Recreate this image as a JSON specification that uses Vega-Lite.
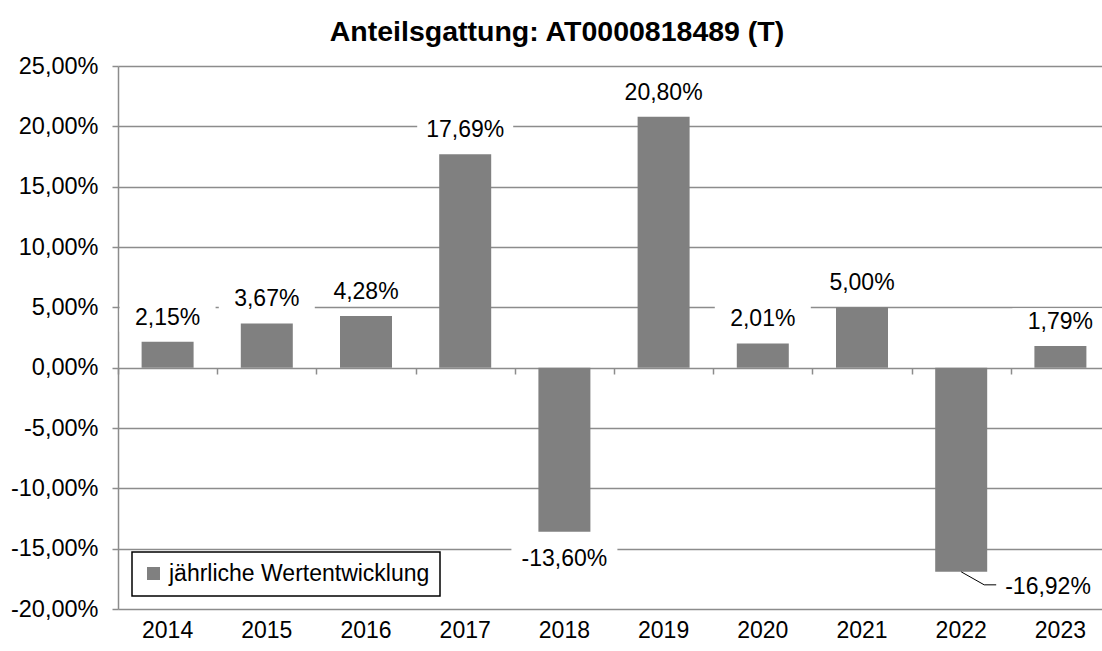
{
  "$schema": "https://vega.github.io/schema/vega-lite/v6.json",
  "autosize": {"type": "none"},
  "padding": {"left": 118, "top": 66, "right": 0, "bottom": 42},
  "width": 992,
  "height": 543,
  "background": "white",
  "title": {
    "text": "Anteilsgattung: AT0000818489 (T)",
    "font": "Liberation Sans",
    "fontSize": 28.5,
    "fontWeight": "bold",
    "color": "black",
    "anchor": "middle",
    "baseline": "alphabetic",
    "offset": -15,
    "dx": -57
  },
  "config": {
    "locale": {"number": {"decimal": ",", "thousands": ".", "grouping": [3], "currency": ["", " €"], "minus": "-"}},
    "view": {"stroke": null},
    "axis": {
      "labelFont": "Liberation Sans",
      "labelFontSize": 23,
      "labelColor": "black",
      "domainColor": "#8c8c8c",
      "domainWidth": 1.5,
      "tickColor": "#8c8c8c",
      "tickWidth": 1.5,
      "gridColor": "#8c8c8c",
      "gridWidth": 1.3,
      "title": null
    },
    "legend": {
      "labelFont": "Liberation Sans",
      "labelFontSize": 23,
      "labelColor": "black",
      "labelLimit": 500
    }
  },
  "data": {
    "values": [
      {"Jahr": "2014", "Wert": 0.0215},
      {"Jahr": "2015", "Wert": 0.0367},
      {"Jahr": "2016", "Wert": 0.0428},
      {"Jahr": "2017", "Wert": 0.1769},
      {"Jahr": "2018", "Wert": -0.136},
      {"Jahr": "2019", "Wert": 0.208},
      {"Jahr": "2020", "Wert": 0.0201},
      {"Jahr": "2021", "Wert": 0.05},
      {"Jahr": "2022", "Wert": -0.1692},
      {"Jahr": "2023", "Wert": 0.0179}
    ]
  },
  "resolve": {"axis": {"x": "independent"}},
  "layer": [
    {
      "mark": {"type": "bar", "size": 52},
      "encoding": {
        "x": {
          "field": "Jahr", "type": "nominal", "sort": null,
          "scale": {"paddingInner": 0, "paddingOuter": 0},
          "axis": {"orient": "bottom", "labelAngle": 0, "ticks": false, "domain": false, "grid": false, "labelPadding": 10}
        },
        "y": {
          "field": "Wert", "type": "quantitative",
          "scale": {"domain": [-0.2, 0.25], "nice": false, "zero": false},
          "axis": {
            "values": [-0.2, -0.15, -0.1, -0.05, 0, 0.05, 0.1, 0.15, 0.2, 0.25],
            "format": ".2%", "tickSize": 6, "labelPadding": 14, "labelFontSize": 23.5, "grid": true
          }
        },
        "color": {
          "datum": "jährliche Wertentwicklung",
          "scale": {"range": ["#808080"]},
          "legend": {
            "title": null, "orient": "none", "legendX": 14, "legendY": 486,
            "strokeColor": "black", "fillColor": "white",
            "padding": 10, "symbolType": "square", "symbolSize": 170,
            "symbolStrokeWidth": 0, "labelOffset": 4,
            "encode": {"legend": {"update": {"strokeWidth": {"value": 1.5}}}}
          }
        }
      }
    },
    {
      "transform": [{"filter": "datum.Wert > 0"}],
      "mark": {"type": "point", "filled": true, "color": "white", "opacity": 1, "yOffset": -24, "shape": "M-1,-0.29L1,-0.29L1,0.29L-1,0.29Z", "size": 9216},
      "encoding": {
        "x": {"field": "Jahr", "type": "nominal", "sort": null, "axis": null},
        "y": {"field": "Wert", "type": "quantitative"}
      }
    },
    {
      "transform": [{"filter": "datum.Jahr == '2018'"}],
      "mark": {"type": "point", "filled": true, "color": "white", "opacity": 1, "yOffset": 27, "shape": "M-1,-0.26L1,-0.26L1,0.26L-1,0.26Z", "size": 11236},
      "encoding": {
        "x": {"field": "Jahr", "type": "nominal", "sort": null, "axis": null},
        "y": {"field": "Wert", "type": "quantitative"}
      }
    },
    {
      "transform": [{"filter": "datum.Wert > 0"}],
      "mark": {"type": "text", "font": "Liberation Sans", "fontSize": 23, "color": "black", "baseline": "middle", "dy": -24},
      "encoding": {
        "x": {"field": "Jahr", "type": "nominal", "sort": null, "axis": null},
        "y": {"field": "Wert", "type": "quantitative"},
        "text": {"field": "Wert", "type": "quantitative", "format": ".2%"}
      }
    },
    {
      "transform": [{"filter": "datum.Jahr == '2018'"}],
      "mark": {"type": "text", "font": "Liberation Sans", "fontSize": 23, "color": "black", "baseline": "middle", "dy": 27},
      "encoding": {
        "x": {"field": "Jahr", "type": "nominal", "sort": null, "axis": null},
        "y": {"field": "Wert", "type": "quantitative"},
        "text": {"field": "Wert", "type": "quantitative", "format": ".2%"}
      }
    },
    {
      "transform": [{"filter": "datum.Jahr == '2022'"}],
      "mark": {"type": "text", "font": "Liberation Sans", "fontSize": 23, "color": "black", "baseline": "middle", "align": "left", "dx": 44, "dy": 15},
      "encoding": {
        "x": {"field": "Jahr", "type": "nominal", "sort": null, "axis": null},
        "y": {"field": "Wert", "type": "quantitative"},
        "text": {"field": "Wert", "type": "quantitative", "format": ".2%"}
      }
    },
    {
      "transform": [{"filter": "datum.Jahr == '2022'"}],
      "mark": {"type": "rule", "color": "black", "strokeWidth": 1, "x2Offset": 23, "y2Offset": 13},
      "encoding": {
        "x": {"field": "Jahr", "type": "nominal", "sort": null,
          "axis": {"orient": "bottom", "offset": -241, "labels": false, "domain": false, "grid": false, "ticks": true, "tickBand": "extent", "tickSize": 6, "tickColor": "#8c8c8c", "tickWidth": 1.5}},
        "y": {"field": "Wert", "type": "quantitative"},
        "x2": {"field": "Jahr"},
        "y2": {"field": "Wert"}
      }
    },
    {
      "transform": [{"filter": "datum.Jahr == '2022'"}],
      "mark": {"type": "rule", "color": "black", "strokeWidth": 1, "xOffset": 23, "yOffset": 13, "x2Offset": 35, "y2Offset": 13},
      "encoding": {
        "x": {"field": "Jahr", "type": "nominal", "sort": null, "axis": null},
        "y": {"field": "Wert", "type": "quantitative"},
        "x2": {"field": "Jahr"},
        "y2": {"field": "Wert"}
      }
    }
  ]
}
